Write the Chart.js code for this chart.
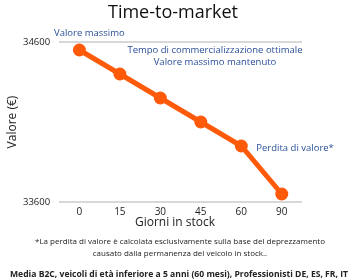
<!DOCTYPE html>
<html>
<head>
<meta charset="utf-8">
<script src="https://cdn.jsdelivr.net/npm/chart.js@4"></script>
<style>
  html, body { margin: 0; padding: 0; background: #fff; }
  #wrap { width: 359px; height: 280px; position: relative; }
</style>
</head>
<body>
<div id="wrap"><canvas id="chart"></canvas></div>
<script>
const days = ["0", "15", "30", "45", "60", "90"];
const values = [34550, 34400, 34250, 34100, 33950, 33650];
const yTicks = [33600, 34600];

const FONT = "'Open Sans', sans-serif";
const BLUE = "#2a4f98";
const ORANGE = "#ff5a0a";

// title, axis titles, labels on the plot and the notes under it
const notes = {
    id: "notes",
    afterDraw(chart) {
        const ctx = chart.ctx;
        const x = chart.scales.x;
        const y = chart.scales.y;
        const area = chart.chartArea;
        ctx.save();
        ctx.textBaseline = "middle";
        ctx.fillStyle = "#111";
        ctx.textAlign = "center";
        ctx.font = "18px " + FONT;
        ctx.fillText("Time-to-market", 173, 13);

        ctx.fillStyle = "#222";
        ctx.font = "12px " + FONT;
        ctx.fillText("Giorni in stock", 175, 223);
        ctx.save();
        ctx.translate(13, (area.top + area.bottom) / 2);
        ctx.rotate(-Math.PI / 2);
        ctx.font = "12px " + FONT;
        ctx.fillText("Valore (€)", 0, 0);
        ctx.restore();

        ctx.fillStyle = BLUE;
        ctx.font = "9.5px " + FONT;
        ctx.textAlign = "left";
        ctx.fillText("Valore massimo", 54, y.getPixelForValue(34600) - 9);
        ctx.textAlign = "center";
        ctx.fillText("Tempo di commercializzazione ottimale", 215, 50);
        ctx.fillText("Valore massimo mantenuto", 215, 62);
        ctx.textAlign = "left";
        ctx.fillText("Perdita di valore*", x.getPixelForValue(4) + 15, y.getPixelForValue(33950) + 2);

        ctx.fillStyle = "#222";
        ctx.textAlign = "center";
        ctx.font = "8px " + FONT;
        ctx.fillText("*La perdita di valore è calcolata esclusivamente sulla base del deprezzamento", 180, 242);
        ctx.fillText("causato dalla permanenza del veicolo in stock..", 180, 254);
        ctx.font = "bold 9px " + FONT;
        ctx.fillText("Media B2C, veicoli di età inferiore a 5 anni (60 mesi), Professionisti DE, ES, FR, IT", 179, 274, 338);
        ctx.restore();
    }
};

new Chart(document.getElementById("chart"), {
    type: "line",
    data: {
        labels: days,
        datasets: [{
            data: values,
            borderColor: ORANGE,
            backgroundColor: ORANGE,
            borderWidth: 5,
            pointRadius: 6.5,
            pointBorderWidth: 0,
            pointHoverRadius: 6.5,
            tension: 0
        }]
    },
    options: {
        responsive: true,
        maintainAspectRatio: false,
        animation: false,
        layout: { padding: { left: 14, right: 57, top: 42, bottom: 58 } },
        scales: {
            x: {
                offset: true,
                grid: { display: false, drawTicks: false },
                border: { display: false },
                ticks: { color: "#222", font: { family: FONT, size: 10 }, padding: 4 }
            },
            y: {
                min: 33600,
                max: 34600,
                afterBuildTicks: (axis) => { axis.ticks = yTicks.map(v => ({ value: v })); },
                grid: { color: "#d8d8d8", lineWidth: 2, drawTicks: false },
                border: { display: false },
                ticks: { color: "#222", font: { family: FONT, size: 9.5 }, padding: 9, callback: (v) => String(v) }
            }
        },
        plugins: {
            legend: { display: false },
            tooltip: { enabled: false },
            title: { display: false }
        }
    },
    plugins: [notes]
});
</script>
</body>
</html>
